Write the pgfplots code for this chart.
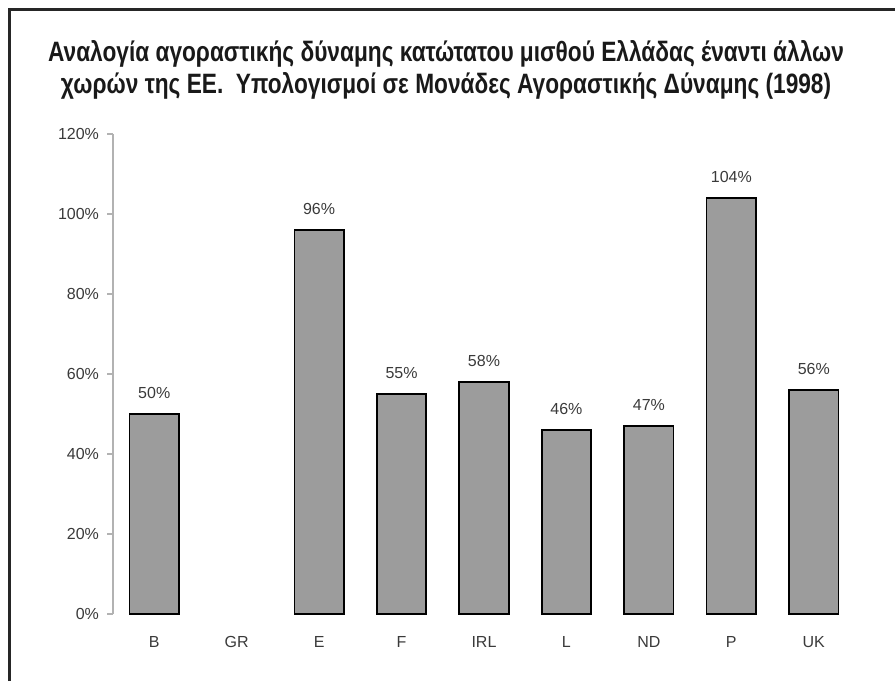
\documentclass[border=0pt]{standalone}
\usepackage{pgfplots}
\pgfplotsset{compat=1.18}
\usepackage{fontspec}
\setmainfont{Liberation Sans}
\newfontfamily\titlefont[FakeStretch=0.81]{Liberation Sans}
\definecolor{barfill}{HTML}{9C9C9C}
\definecolor{txtgray}{HTML}{3A3A3A}
\begin{document}
\begin{tikzpicture}
% whole picture: 895 x 681 px, 0.5pt per px
\useasboundingbox (0,0) rectangle (447.5pt,340.5pt);
\draw[line width=1.3pt, black!85] (4.75pt,0) -- (4.75pt,335.75pt) -- (447.5pt,335.75pt);
\node[font=\titlefont\fontsize{14}{16}\selectfont\bfseries, align=center, text=black!90]
  at (223pt,305.5pt) {Αναλογία αγοραστικής δύναμης κατώτατου μισθού Ελλάδας έναντι άλλων\\
  χωρών της ΕΕ.\ \ Υπολογισμοί σε Μονάδες Αγοραστικής Δύναμης (1998)};
\begin{axis}[
    at={(56.5pt,33.5pt)}, anchor=south west,
    scale only axis,
    width=371pt, height=240pt,
    xmin=-0.5, xmax=8.5,
    ymin=0, ymax=120,
    axis x line*=bottom,
    axis y line*=left,
    x axis line style={draw=none},
    y axis line style={draw=black!30, line width=0.6pt},
    xtick={0,...,8},
    xticklabels={B,GR,E,F,IRL,L,ND,P,UK},
    xtick style={draw=none},
    xticklabel style={font=\fontsize{8}{9}\selectfont, text=txtgray, yshift=-4.5pt},
    ytick={0,20,...,120},
    yticklabel={\pgfmathprintnumber{\tick}\%},
    ytick style={draw=black!30, line width=0.6pt},
    major tick length=3pt,
    tick align=outside,
    yticklabel style={font=\fontsize{8}{9}\selectfont, text=txtgray, xshift=-0.5pt},
    /pgf/number format/assume math mode=true,
    clip=false,
]
    \addplot[ybar, bar width=0.6, fill=barfill, draw=black, line width=0.8pt,
        nodes near coords={\pgfmathprintnumber{\pgfplotspointmeta}\%},
        nodes near coords style={font=\fontsize{8}{9}\selectfont, text=txtgray, yshift=4pt},
    ] coordinates {
        (0,50) (2,96) (3,55) (4,58) (5,46) (6,47) (7,104) (8,56)
    };
\end{axis}
\end{tikzpicture}
\end{document}
